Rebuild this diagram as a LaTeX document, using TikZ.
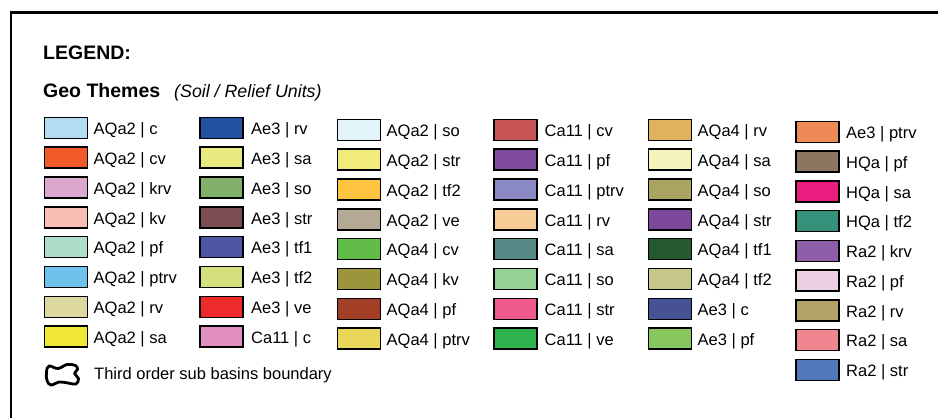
\documentclass[tikz,border=0pt]{standalone}
\usepackage{fontspec}
\setmainfont{Liberation Sans}
% column 1
\definecolor{ca1}{HTML}{B3DCF2}\definecolor{ca2}{HTML}{F15A29}\definecolor{ca3}{HTML}{DBA8CF}\definecolor{ca4}{HTML}{F9BFB4}
\definecolor{ca5}{HTML}{AEDDC8}\definecolor{ca6}{HTML}{6FC2EC}\definecolor{ca7}{HTML}{DDD8A0}\definecolor{ca8}{HTML}{F0E834}
% column 2
\definecolor{cb1}{HTML}{2350A0}\definecolor{cb2}{HTML}{E8EA80}\definecolor{cb3}{HTML}{82B269}\definecolor{cb4}{HTML}{7B4F52}
\definecolor{cb5}{HTML}{4F56A3}\definecolor{cb6}{HTML}{D5E07C}\definecolor{cb7}{HTML}{EE2B2A}\definecolor{cb8}{HTML}{E08FC0}
% column 3
\definecolor{cc1}{HTML}{E3F4F8}\definecolor{cc2}{HTML}{F0EB7A}\definecolor{cc3}{HTML}{FFC440}\definecolor{cc4}{HTML}{B3A994}
\definecolor{cc5}{HTML}{62BD48}\definecolor{cc6}{HTML}{9D953B}\definecolor{cc7}{HTML}{A33F27}\definecolor{cc8}{HTML}{E9D75A}
% column 4
\definecolor{cd1}{HTML}{C85556}\definecolor{cd2}{HTML}{804A9D}\definecolor{cd3}{HTML}{8A89C3}\definecolor{cd4}{HTML}{F8CD98}
\definecolor{cd5}{HTML}{568A87}\definecolor{cd6}{HTML}{96D093}\definecolor{cd7}{HTML}{EE5A8E}\definecolor{cd8}{HTML}{2FB34E}
% column 5
\definecolor{ce1}{HTML}{E0B25C}\definecolor{ce2}{HTML}{F6F4BC}\definecolor{ce3}{HTML}{A9A462}\definecolor{ce4}{HTML}{7D479C}
\definecolor{ce5}{HTML}{245A2D}\definecolor{ce6}{HTML}{C5C68A}\definecolor{ce7}{HTML}{475294}\definecolor{ce8}{HTML}{87C75E}
% column 6
\definecolor{cf1}{HTML}{EE8A55}\definecolor{cf2}{HTML}{8B7760}\definecolor{cf3}{HTML}{EC1B7E}\definecolor{cf4}{HTML}{359179}
\definecolor{cf5}{HTML}{8E5EA8}\definecolor{cf6}{HTML}{EBD0E3}\definecolor{cf7}{HTML}{B1A268}\definecolor{cf8}{HTML}{F08690}
\definecolor{cf9}{HTML}{5277BA}
\begin{document}
\begin{tikzpicture}[x=1pt,y=-1pt,
  sw/.style={draw=black,line width=1.5pt,minimum width=43pt,minimum height=21pt,inner sep=0pt,anchor=north west},
  lab/.style={anchor=base west,inner sep=0pt,font=\fontsize{16.5}{18}\selectfont},
  frame/.style={line width=2.5pt}]
\useasboundingbox (0,0) rectangle (938,418);
\fill[white] (0,0) rectangle (938,418);
\draw[frame] (938,12.5) -- (11,12.5) -- (11,418);

\node[anchor=base west,inner sep=0pt,font=\bfseries\fontsize{19.5}{22}\selectfont] (legend) at (43,59.5) {LEGEND:};
\node[anchor=base west,inner sep=0pt,font=\bfseries\fontsize{19.5}{22}\selectfont] (geo) at (43,97.5) {Geo Themes};
\node[anchor=base west,inner sep=0pt,font=\itshape\fontsize{17.8}{20}\selectfont] (soil) at (174,97.5) {(Soil / Relief Units)};

% column 1
\foreach \c/\t [count=\i from 0] in {ca1/{AQa2 | c},ca2/{AQa2 | cv},ca3/{AQa2 | krv},ca4/{AQa2 | kv},ca5/{AQa2 | pf},ca6/{AQa2 | ptrv},ca7/{AQa2 | rv},ca8/{AQa2 | sa}}{
  \node[sw,fill=\c] (sa\i) at (43.5,116.5+29.85*\i) {};
  \node[lab] (ta\i) at (93.5,134.5+29.85*\i) {\t};
}
% column 2
\foreach \c/\t [count=\i from 0] in {cb1/{Ae3 | rv},cb2/{Ae3 | sa},cb3/{Ae3 | so},cb4/{Ae3 | str},cb5/{Ae3 | tf1},cb6/{Ae3 | tf2},cb7/{Ae3 | ve},cb8/{Ca11 | c}}{
  \node[sw,fill=\c] (sb\i) at (199,116.5+29.85*\i) {};
  \node[lab] (tb\i) at (251,134.5+29.85*\i) {\t};
}
% column 3
\foreach \c/\t [count=\i from 0] in {cc1/{AQa2 | so},cc2/{AQa2 | str},cc3/{AQa2 | tf2},cc4/{AQa2 | ve},cc5/{AQa4 | cv},cc6/{AQa4 | kv},cc7/{AQa4 | pf},cc8/{AQa4 | ptrv}}{
  \node[sw,fill=\c] (sc\i) at (336.5,118.5+29.85*\i) {};
  \node[lab] (tc\i) at (386.5,136.5+29.85*\i) {\t};
}
% column 4
\foreach \c/\t [count=\i from 0] in {cd1/{Ca11 | cv},cd2/{Ca11 | pf},cd3/{Ca11 | ptrv},cd4/{Ca11 | rv},cd5/{Ca11 | sa},cd6/{Ca11 | so},cd7/{Ca11 | str},cd8/{Ca11 | ve}}{
  \node[sw,fill=\c] (sd\i) at (493,118.5+29.85*\i) {};
  \node[lab] (td\i) at (544.5,136.5+29.85*\i) {\t};
}
% column 5
\foreach \c/\t [count=\i from 0] in {ce1/{AQa4 | rv},ce2/{AQa4 | sa},ce3/{AQa4 | so},ce4/{AQa4 | str},ce5/{AQa4 | tf1},ce6/{AQa4 | tf2},ce7/{Ae3 | c},ce8/{Ae3 | pf}}{
  \node[sw,fill=\c] (se\i) at (647.5,118.5+29.85*\i) {};
  \node[lab] (te\i) at (697.5,136.5+29.85*\i) {\t};
}
% column 6
\foreach \c/\t [count=\i from 0] in {cf1/{Ae3 | ptrv},cf2/{HQa | pf},cf3/{HQa | sa},cf4/{HQa | tf2},cf5/{Ra2 | krv},cf6/{Ra2 | pf},cf7/{Ra2 | rv},cf8/{Ra2 | sa},cf9/{Ra2 | str}}{
  \node[sw,fill=\c] (sf\i) at (795,120.5+29.75*\i) {};
  \node[lab] (tf\i) at (846,138.5+29.75*\i) {\t};
}

% boundary symbol
\draw[line width=2.8pt,line join=round] plot[smooth cycle,tension=0.65] coordinates
  {(49,366) (58,368.5) (67,364.5) (75.5,365.5) (77.5,369.5) (74.5,373.5) (78.5,378.5) (76,384) (68,383) (59,382) (51,385) (47,380.5) (46.5,372)};
\node[lab] (bnd) at (94,379) {Third order sub basins boundary};
\end{tikzpicture}
\end{document}
